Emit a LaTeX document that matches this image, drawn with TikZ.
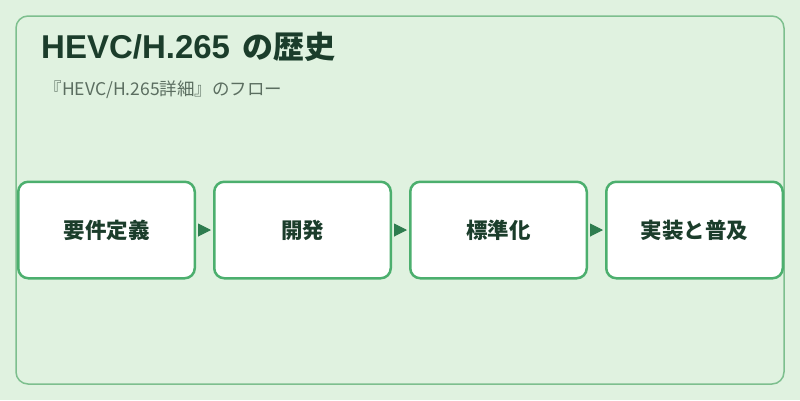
\documentclass[tikz,border=0pt]{standalone}
\usepackage{fontspec}
\setmainfont{Noto Sans CJK JP}
\newfontfamily\latinfont{Liberation Sans}
\usepackage{xcolor}
\usepackage{tikz}
\usetikzlibrary{arrows.meta,positioning}

\definecolor{bggreen}{HTML}{E0F2E0}
\definecolor{framegreen}{HTML}{7DBF8E}
\definecolor{boxgreen}{HTML}{4CAF6E}
\definecolor{arrowgreen}{HTML}{2E7D4F}
\definecolor{titlegreen}{HTML}{1B3D2B}
\definecolor{subgray}{HTML}{5B6E60}

\begin{document}
\begin{tikzpicture}[
  x=1pt, y=-1pt,
  stepbox/.style={draw=boxgreen, line width=2.5pt, rounded corners=10pt, fill=white,
    minimum width=176.5pt, minimum height=96.5pt, inner sep=0pt,
    text=titlegreen, font=\bfseries\fontsize{21.5}{25}\selectfont},
  flow/.style={-{Triangle[length=13pt,width=13pt]}, draw=arrowgreen, fill=arrowgreen,
    line width=1pt, shorten <=2pt, shorten >=2pt},
  node distance=17pt
]
% background and frame
\fill[bggreen] (0,0) rectangle (800,400);
\draw[framegreen, line width=1.5pt, rounded corners=12pt] (16,16) rectangle (784,384);

\node[anchor=base west, text=titlegreen, font=\bfseries\fontsize{31}{35}\selectfont, inner sep=0pt]
  (title) at (41,58.5) {{\latinfont\fontsize{33}{35}\selectfont HEVC/H.265}\hspace{12pt}の歴史};
\node[anchor=base west, text=subgray, font=\fontsize{17.5}{21}\selectfont, inner sep=0pt]
  (subtitle) at (44.5,95) {『HEVC/H.265詳細』のフロー};

% flow
\node[stepbox] (req) at (106.5,230) {要件定義};
\node[stepbox, right=of req] (dev) {開発};
\node[stepbox, right=of dev] (std) {標準化};
\node[stepbox, right=of std] (impl) {実装と普及};

\draw[flow] (req) -- (dev);
\draw[flow] (dev) -- (std);
\draw[flow] (std) -- (impl);
\end{tikzpicture}
\end{document}
